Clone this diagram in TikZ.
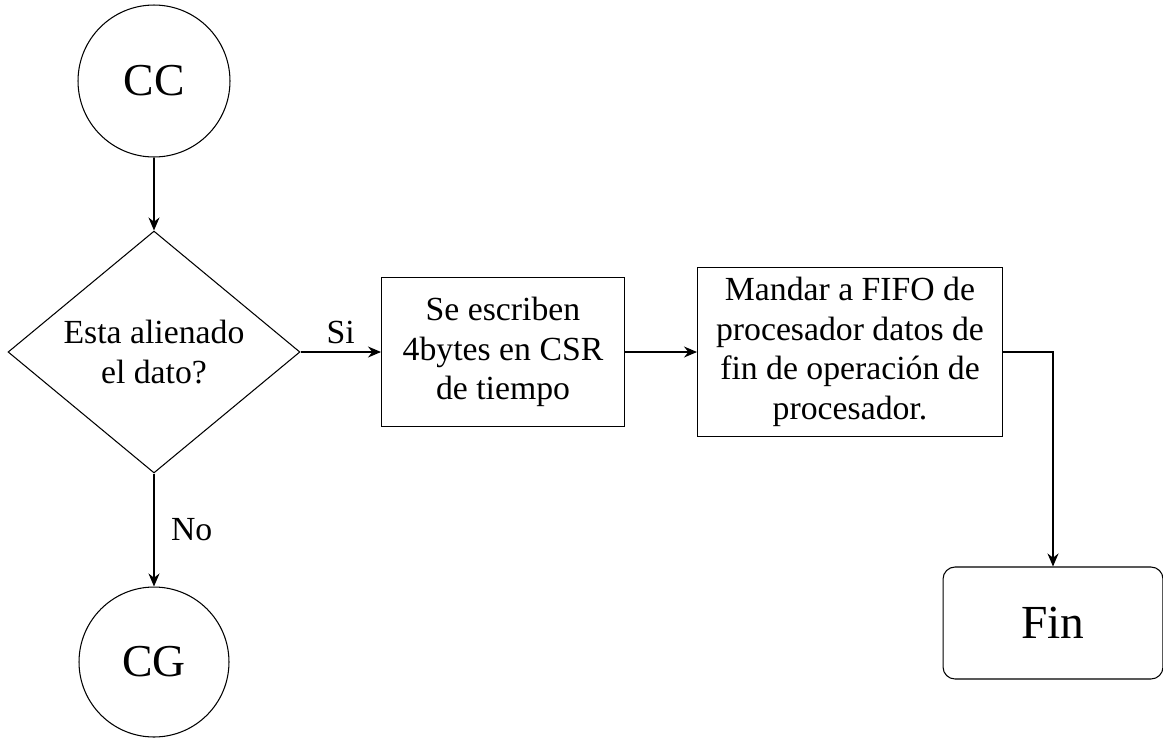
\documentclass[tikz,border=0pt]{standalone}
\usepackage{fontspec}
\setmainfont{Liberation Serif}
\usetikzlibrary{shapes.geometric,arrows.meta}
\begin{document}
\begin{tikzpicture}[x=0.02cm,y=-0.02cm,
  font=\fontsize{19.2}{22.5}\selectfont,
  caja/.style={draw, line width=0.6pt, align=center, inner sep=0pt},
  flecha/.style={draw, line width=0.7pt, -{Stealth[length=2.6mm,width=2.2mm]}}]
\useasboundingbox (0,0) rectangle (1163,738);
\node[caja, circle, minimum size=3.04cm, font=\fontsize{26}{30}\selectfont] (cc) at (154,81) {CC};
\node[caja, diamond, aspect=1.2, minimum width=5.84cm, minimum height=4.84cm] (dato) at (154,352) {Esta alienado\\el dato?};
\node[caja, minimum width=4.86cm, minimum height=2.98cm] (csr) at (503,352) {Se escriben\\4bytes en CSR\\de tiempo};
\node[caja, minimum width=6.1cm, minimum height=3.38cm] (fifo) at (850,352) {Mandar a FIFO de\\procesador datos de\\fin de operación de\\procesador.};
\node[caja, rounded corners=0.24cm, minimum width=4.4cm, minimum height=2.24cm, font=\fontsize{27}{30}\selectfont] (fin) at (1053,623) {Fin};
\node[caja, circle, minimum size=3.0cm, font=\fontsize{26}{30}\selectfont] (cg) at (154,662) {CG};

\path[flecha] (cc) -- (dato);
\path[flecha] (dato) -- node[above=1pt] {Si} (csr);
\path[flecha] (dato) -- node[right=6pt] {No} (cg);
\path[flecha] (csr) -- (fifo);
\path[flecha] (fifo.east) -| (fin.north);
\end{tikzpicture}
\end{document}
